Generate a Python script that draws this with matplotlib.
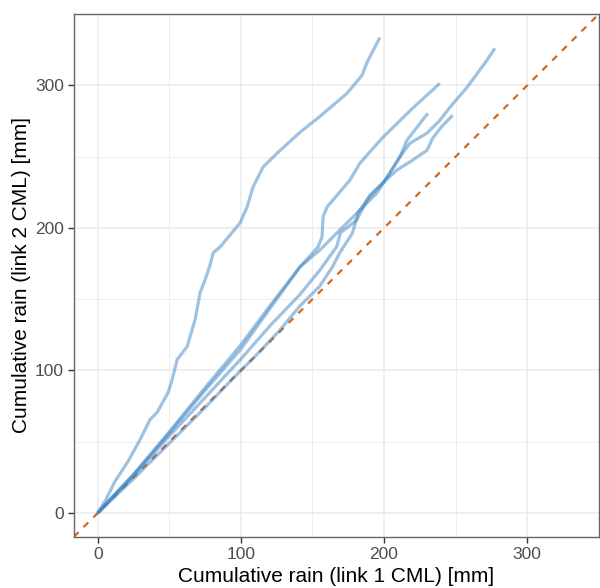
import numpy as np
import matplotlib
matplotlib.use('Agg')
import matplotlib.pyplot as plt

# cumulative rain of link 1 (x) and link 2 (y) for each event, mm
a_x = [0, 5.2, 12.2, 21.3, 29.7, 36.6, 41.5, 49.2, 52.0, 55.5, 62.5, 68.0, 71.5, 75.0,
       78.5, 80.6, 85.5, 99.4, 104.3, 108.5, 115.5, 125.3, 141.3, 155.3, 174.1, 184.6,
       188.1, 197.1]
a_y = [0, 8.4, 22.4, 36.4, 51.7, 65.7, 70.6, 84.6, 93.7, 107.7, 116.8, 135.7, 154.5, 163.6,
       174.1, 182.5, 186.7, 203.5, 214.7, 228.7, 242.7, 252.4, 267.1, 278.3, 294.4, 307.0,
       316.1, 333.6]

b_x = [0, 10, 25, 50, 75, 100, 120, 141.3, 153.9, 156.7, 157.4, 160.2, 176.2, 183.2,
       199.2, 220, 239]
b_y = [0, 11, 27, 57, 88, 118, 145, 172.7, 186.7, 193.7, 207.7, 214.7, 233.6, 245.5,
       263.6, 284, 301.5]

c_x = [0, 10, 25, 50, 75, 100, 120, 141.3, 155.3, 171.3, 183.2, 195, 204, 211, 218,
       229.9, 239, 246, 257.9, 271.8, 277.4]
c_y = [0, 11, 27, 56, 86, 115, 143, 172.7, 184.6, 200.7, 212.6, 224.5, 238.5, 249.7, 259.4,
       266.4, 275.5, 284.6, 298.6, 317.5, 326]

d_x = [0, 25, 50, 75, 92.5, 100, 120, 141, 155.3, 167, 169.5, 181, 190, 199.2, 204, 211,
       216, 223, 230.6]
d_y = [0, 26, 54, 81, 100, 108, 131, 153, 170.6, 187, 196.5, 205.6, 223, 231.5, 238.5,
       249.7, 261.5, 270.6, 280.4]

e_x = [0, 25, 50, 75, 95, 110, 127, 141, 155, 164, 169, 178, 182, 188, 199, 209, 220,
       230, 234, 241, 248]
e_y = [0, 24, 49, 74, 95, 110, 128, 145, 159, 172.7, 182.5, 196.5, 211, 219.6, 231.5,
       240.6, 247.6, 254.5, 263, 272, 279]

events = [(a_x, a_y), (b_x, b_y), (c_x, c_y), (d_x, d_y), (e_x, e_y)]
lims = (-16.7, 350)

fig = plt.figure(figsize=(6, 5.88), dpi=100)
ax = fig.add_axes([0.123, 0.087, 0.875, 0.889])

for ex, ey in events:
    ax.plot(ex, ey, color='#3f86c4', alpha=0.5, lw=2.3, solid_capstyle='butt', zorder=3)

ax.plot(lims, lims, color='#d2691e', lw=1.6, dashes=(3, 3.2), zorder=2)

ax.set_xlim(lims)
ax.set_ylim(lims)
ticks = [0, 100, 200, 300]
ax.set_xticks(ticks)
ax.set_yticks(ticks)
ax.set_xticks([50, 150, 250], minor=True)
ax.set_yticks([50, 150, 250], minor=True)
ax.grid(which='major', color='#ebebeb', lw=1.1, zorder=0)
ax.grid(which='minor', color='#ebebeb', lw=0.6, zorder=0)
ax.set_axisbelow(True)
ax.tick_params(which='major', length=4, width=1, color='#333333', labelcolor='#4d4d4d',
               labelsize=12.5, pad=3)
ax.tick_params(which='minor', length=0)
for s in ax.spines.values():
    s.set_color('#666666')
    s.set_linewidth(1.0)

ax.set_xlabel('Cumulative rain (link 1 CML) [mm]', fontsize=15, labelpad=4)
ax.set_ylabel('Cumulative rain (link 2 CML) [mm]', fontsize=15, labelpad=3)

for t in ax.get_xticklabels() + ax.get_yticklabels() + [ax.xaxis.label, ax.yaxis.label]:
    t.set_family(['Liberation Sans', 'DejaVu Sans'])

fig.savefig('out.png', dpi=100)
